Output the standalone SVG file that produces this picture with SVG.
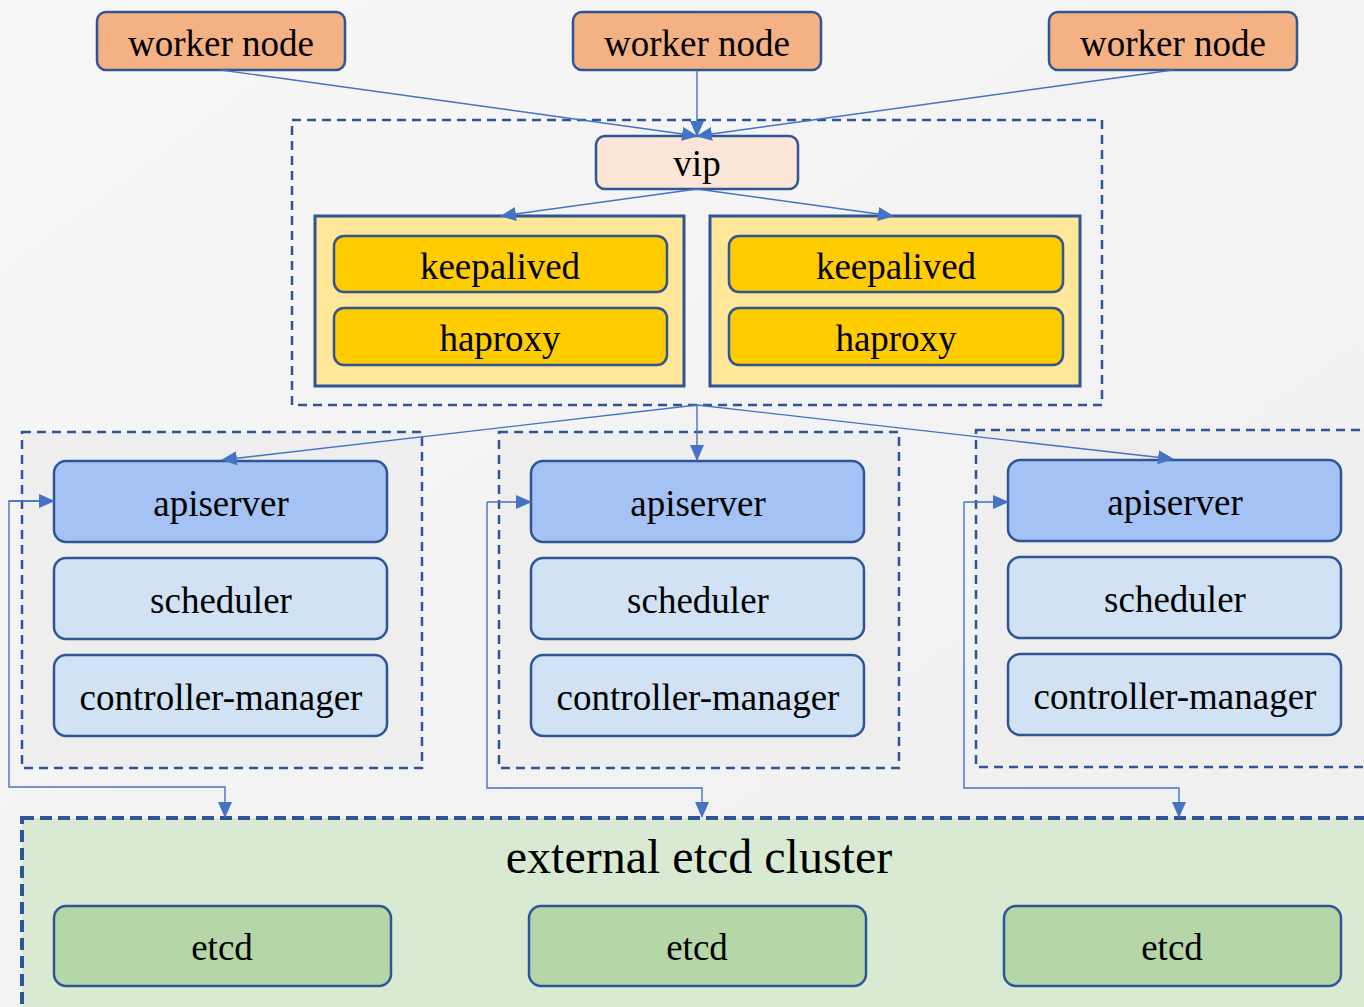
<svg xmlns="http://www.w3.org/2000/svg" width="1364" height="1007" viewBox="0 0 1364 1007">
<defs>
<marker id="arr" viewBox="0 0 16 14" refX="15" refY="7" markerWidth="16" markerHeight="14" markerUnits="userSpaceOnUse" orient="auto">
<path d="M0,0 L16,7 L0,14 z" fill="#4472C4"/>
</marker>
<linearGradient id="bg" x1="0" y1="0" x2="1" y2="1">
<stop offset="0" stop-color="#F7F7F7"/>
<stop offset="1" stop-color="#EFEFEF"/>
</linearGradient>
</defs>
<style>
text{font-family:'Liberation Serif','DejaVu Serif',serif;font-size:37px;fill:#000;text-anchor:middle}
.b{stroke:#2F5597;stroke-width:2.5}
.worker{fill:#F4B183}
.vip{fill:#FBE5D6}
.lbo{fill:#FFE699;stroke:#2F5597;stroke-width:3}
.lbi{fill:#FFCC00}
.api{fill:#A4C2F4}
.sch{fill:#D0E2F4}
.etcd{fill:#B5D7A8}
.dash{fill:none;stroke:#2F5597;stroke-width:2.5;stroke-dasharray:9,6}
.mdash{fill:#EEEEEE;stroke:#2F5597;stroke-width:2.5;stroke-dasharray:9,6}
.edash{fill:#D9EAD3;stroke:#2F5597;stroke-width:4;stroke-dasharray:12,6}
.c{fill:none;stroke:#4472C4;stroke-width:1.4}
</style>
<rect width="1364" height="1007" fill="url(#bg)"/>

<g id="groups">
<rect id="lb-group" class="dash" x="292" y="120" width="810" height="285"/>
<rect id="master1" class="mdash" x="22" y="432" width="400" height="336"/>
<rect id="master2" class="mdash" x="499" y="432" width="400" height="336"/>
<rect id="master3" class="mdash" x="976" y="430" width="400" height="337"/>
<rect id="etcd-cluster" class="edash" x="22" y="818" width="1360" height="200"/>
<text x="699" y="873" style="font-size:48px">external etcd cluster</text>
</g>

<g id="worker1"><rect class="b worker" x="97" y="12" width="248" height="58" rx="9"/><text x="221" y="56">worker node</text></g>
<g id="worker2"><rect class="b worker" x="573" y="12" width="248" height="58" rx="9"/><text x="697" y="56">worker node</text></g>
<g id="worker3"><rect class="b worker" x="1049" y="12" width="248" height="58" rx="9"/><text x="1173" y="56">worker node</text></g>

<g id="vip"><rect class="b vip" x="596" y="136" width="202" height="53" rx="9"/><text x="697" y="176">vip</text></g>

<g id="lb1">
<rect class="lbo" x="315" y="216" width="369" height="170"/>
<g id="keepalived1"><rect class="b lbi" x="334" y="236" width="333" height="56" rx="10"/><text x="500" y="279">keepalived</text></g>
<g id="haproxy1"><rect class="b lbi" x="334" y="308" width="333" height="57" rx="10"/><text x="500" y="351">haproxy</text></g>
</g>
<g id="lb2">
<rect class="lbo" x="710" y="216" width="370" height="170"/>
<g id="keepalived2"><rect class="b lbi" x="729" y="236" width="334" height="56" rx="10"/><text x="896" y="279">keepalived</text></g>
<g id="haproxy2"><rect class="b lbi" x="729" y="308" width="334" height="57" rx="10"/><text x="896" y="351">haproxy</text></g>
</g>

<g id="m1">
<g id="apiserver1"><rect class="b api" x="54" y="461" width="333" height="81" rx="12"/><text x="221" y="516">apiserver</text></g>
<g id="scheduler1"><rect class="b sch" x="54" y="558" width="333" height="81" rx="12"/><text x="221" y="613">scheduler</text></g>
<g id="cm1"><rect class="b sch" x="54" y="655" width="333" height="81" rx="12"/><text x="221" y="710">controller-manager</text></g>
</g>
<g id="m2">
<g id="apiserver2"><rect class="b api" x="531" y="461" width="333" height="81" rx="12"/><text x="698" y="516">apiserver</text></g>
<g id="scheduler2"><rect class="b sch" x="531" y="558" width="333" height="81" rx="12"/><text x="698" y="613">scheduler</text></g>
<g id="cm2"><rect class="b sch" x="531" y="655" width="333" height="81" rx="12"/><text x="698" y="710">controller-manager</text></g>
</g>
<g id="m3">
<g id="apiserver3"><rect class="b api" x="1008" y="460" width="333" height="81" rx="12"/><text x="1175" y="515">apiserver</text></g>
<g id="scheduler3"><rect class="b sch" x="1008" y="557" width="333" height="81" rx="12"/><text x="1175" y="612">scheduler</text></g>
<g id="cm3"><rect class="b sch" x="1008" y="654" width="333" height="81" rx="12"/><text x="1175" y="709">controller-manager</text></g>
</g>

<g id="etcd1"><rect class="b etcd" x="54" y="906" width="337" height="80" rx="12"/><text x="222" y="960">etcd</text></g>
<g id="etcd2"><rect class="b etcd" x="529" y="906" width="337" height="80" rx="12"/><text x="697" y="960">etcd</text></g>
<g id="etcd3"><rect class="b etcd" x="1004" y="906" width="337" height="80" rx="12"/><text x="1172" y="960">etcd</text></g>

<g id="connectors">
<line class="c" x1="221" y1="70" x2="697" y2="136" marker-end="url(#arr)"/>
<line class="c" x1="697" y1="70" x2="697" y2="136" marker-end="url(#arr)"/>
<line class="c" x1="1173" y1="70" x2="697" y2="136" marker-end="url(#arr)"/>
<line class="c" x1="697" y1="189" x2="501" y2="216" marker-end="url(#arr)"/>
<line class="c" x1="697" y1="189" x2="893" y2="216" marker-end="url(#arr)"/>
<line class="c" x1="697" y1="405" x2="222" y2="460" marker-end="url(#arr)"/>
<line class="c" x1="697" y1="405" x2="697" y2="460" marker-end="url(#arr)"/>
<line class="c" x1="697" y1="405" x2="1173" y2="459" marker-end="url(#arr)"/>
<path class="c" d="M54,501 H9 V787 H225 V817" marker-end="url(#arr)"/>
<path class="c" d="M9,501 H54" marker-end="url(#arr)"/>
<path class="c" d="M487,502 V788 H702 V817" marker-end="url(#arr)"/>
<path class="c" d="M487,502 H531" marker-end="url(#arr)"/>
<path class="c" d="M964,502 V788 H1179 V817" marker-end="url(#arr)"/>
<path class="c" d="M964,502 H1008" marker-end="url(#arr)"/>
</g>
</svg>
